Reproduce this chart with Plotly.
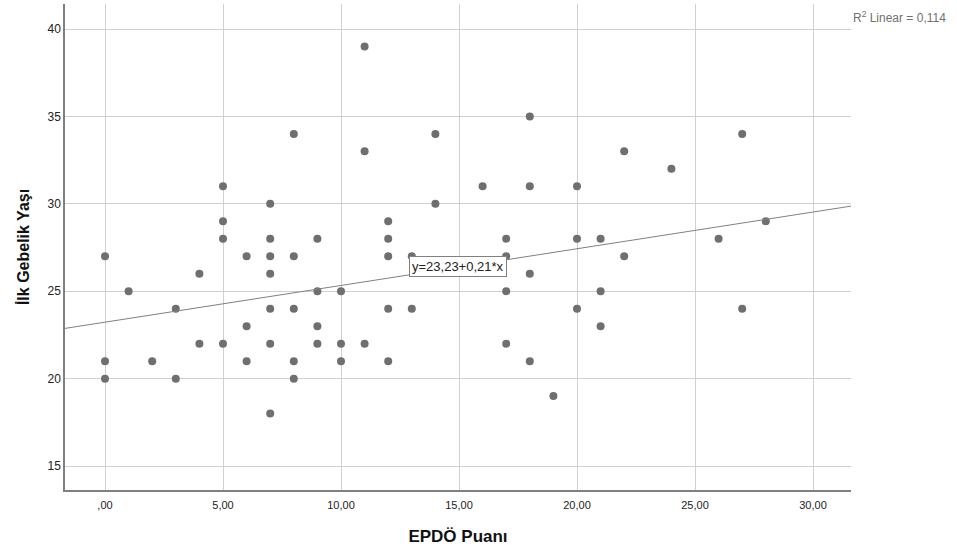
import plotly.graph_objects as go

# Data
epdo_x = [0, 0, 0, 1, 2, 3, 3, 4, 4, 5, 5, 5, 5, 6, 6, 6,
          7, 7, 7, 7, 7, 7, 7, 8, 8, 8, 8, 8, 9, 9, 9, 9,
          10, 10, 10, 11, 11, 11, 12, 12, 12, 12, 12, 13, 13,
          14, 14, 16, 17, 17, 17, 17, 18, 18, 18, 18, 19,
          20, 20, 20, 21, 21, 21, 22, 22, 24, 26, 27, 27, 28]
gebelik_y = [27, 21, 20, 25, 21, 24, 20, 26, 22, 31, 29, 28, 22, 27, 23, 21,
             30, 28, 27, 26, 24, 22, 18, 34, 27, 24, 21, 20, 28, 25, 23, 22,
             25, 22, 21, 39, 33, 22, 29, 28, 27, 24, 21, 27, 24,
             34, 30, 31, 28, 27, 25, 22, 35, 31, 26, 21, 19,
             31, 28, 24, 28, 25, 23, 33, 27, 32, 28, 34, 24, 29]

# Fit line coefficients (from chart label)
intercept = 23.23
slope = 0.21
r2_text = "R<sup>2</sup> Linear = 0,114"
eq_text = "y=23,23+0,21*x"

x_ticks = [0, 5, 10, 15, 20, 25, 30]
x_ticktext = [",00", "5,00", "10,00", "15,00", "20,00", "25,00", "30,00"]
y_ticks = [15, 20, 25, 30, 35, 40]
y_ticktext = ["15", "20", "25", "30", "35", "40"]

x_range = [-1.695, 31.61]
y_range = [13.63, 41.43]

FONT = "Liberation Sans, Arial, sans-serif"

fig = go.Figure()
fig.add_trace(go.Scatter(
    x=epdo_x, y=gebelik_y, mode="markers",
    marker=dict(size=8, color="#6f6f6f", line=dict(width=0)),
    showlegend=False, hoverinfo="x+y"))

line_x = [x_range[0], x_range[1]]
line_y = [intercept + slope * v for v in line_x]
fig.add_trace(go.Scatter(
    x=line_x, y=line_y, mode="lines",
    line=dict(color="#808080", width=1),
    showlegend=False, hoverinfo="skip"))

fig.add_annotation(
    x=14.96, y=26.4, xref="x", yref="y", text=eq_text, showarrow=False,
    font=dict(family=FONT, size=13, color="#222222"),
    bgcolor="white", bordercolor="#808080", borderwidth=1, borderpad=2)

fig.add_annotation(
    x=1, y=1, xref="paper", yref="paper", xanchor="left", yanchor="top",
    xshift=0, yshift=-3, text=r2_text, showarrow=False,
    font=dict(family=FONT, size=12, color="#707070"))

fig.update_layout(
    width=957, height=555,
    margin=dict(l=65, r=106, t=4, b=65),
    paper_bgcolor="white", plot_bgcolor="white",
    font=dict(family=FONT, size=12, color="#222222"),
    xaxis=dict(
        range=x_range, tickvals=x_ticks, ticktext=x_ticktext,
        showgrid=True, gridcolor="#d0d0d0", gridwidth=1,
        zeroline=False, showline=True, linecolor="#808080", linewidth=1.5,
        ticks="", ticklabelstandoff=4,
        tickfont=dict(family=FONT, size=11, color="#222222"),
        title=dict(text="<b>EPDÖ Puanı</b>", standoff=20,
                   font=dict(family=FONT, size=17, color="#111111"))),
    yaxis=dict(
        range=y_range, tickvals=y_ticks, ticktext=y_ticktext,
        showgrid=True, gridcolor="#d0d0d0", gridwidth=1,
        zeroline=False, showline=True, linecolor="#808080", linewidth=1.5,
        ticks="", ticklen=0, tickfont=dict(family=FONT, size=12, color="#222222"),
        title=dict(text="<b>İlk Gebelik Yaşı</b>", standoff=14,
                   font=dict(family=FONT, size=16, color="#111111"))),
)

fig.write_html("out.html")
